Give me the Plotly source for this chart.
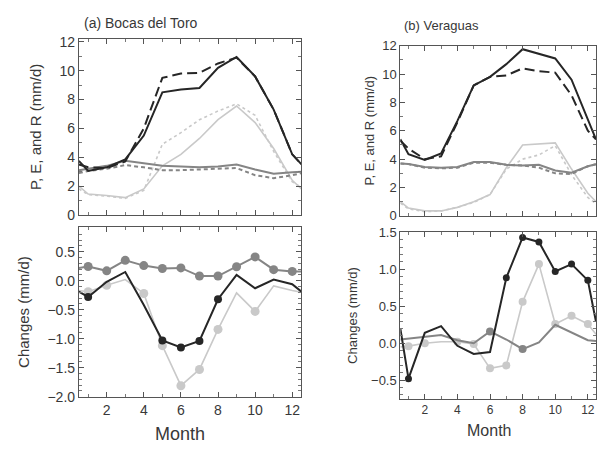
import plotly.graph_objects as go

# Month positions (half-month ends close the annual cycle at the panel edges)
months = [0.5, 1, 2, 3, 4, 5, 6, 7, 8, 9, 10, 11, 12, 12.5]

# ---- (a) Bocas del Toro: climatology (mm/d) ----
bocas_p_fut = [3.75, 3.05, 3.3, 3.85, 5.5, 8.5, 8.7, 8.8, 10.2, 10.95, 9.6, 7.3, 4.2, 3.5]
bocas_p_ctl = [3.5, 3.3, 3.25, 3.7, 6.0, 9.5, 9.8, 9.85, 10.5, 10.9, 9.6, 7.3, 4.2, 3.5]
bocas_e_fut = [3.1, 3.2, 3.4, 3.75, 3.55, 3.4, 3.35, 3.3, 3.35, 3.5, 3.15, 2.85, 2.95, 3.0]
bocas_e_ctl = [2.9, 3.05, 3.2, 3.45, 3.3, 3.1, 3.1, 3.15, 3.2, 3.25, 2.75, 2.55, 2.75, 2.9]
bocas_r_fut = [2.0, 1.45, 1.35, 1.2, 1.8, 3.4, 4.2, 5.3, 6.6, 7.55, 6.4, 4.6, 2.4, 1.8]
bocas_r_ctl = [1.8, 1.4, 1.3, 1.15, 1.7, 4.9, 5.7, 6.6, 7.2, 7.7, 6.9, 4.4, 2.3, 1.9]

# ---- (a) Bocas del Toro: changes (mm/d) ----
bocas_dp = [-0.19, -0.28, -0.02, 0.15, -0.42, -1.03, -1.15, -1.04, -0.32, 0.1, -0.13, 0.02, -0.06, -0.19]
bocas_de = [0.22, 0.245, 0.17, 0.35, 0.26, 0.21, 0.22, 0.08, 0.08, 0.24, 0.41, 0.19, 0.16, 0.16]
bocas_dr = [-0.17, -0.19, -0.08, 0.02, -0.22, -1.12, -1.81, -1.53, -0.84, -0.21, -0.53, -0.09, -0.17, -0.2]
bocas_dp_sig = [0, 1, 0, 0, 0, 1, 1, 1, 1, 0, 0, 0, 0, 0]
bocas_de_sig = [0, 1, 1, 1, 1, 1, 1, 1, 1, 1, 1, 1, 1, 0]
bocas_dr_sig = [0, 1, 1, 0, 1, 1, 1, 1, 1, 0, 1, 0, 0, 0]

# ---- (b) Veraguas: climatology (mm/d) ----
ver_p_fut = [5.4, 4.35, 3.95, 4.4, 6.7, 9.2, 9.8, 10.7, 11.75, 11.45, 11.1, 9.6, 6.8, 5.4]
ver_p_ctl = [5.3, 4.75, 4.0, 4.2, 6.6, 9.2, 9.8, 9.9, 10.4, 10.2, 10.1, 8.5, 6.0, 5.4]
ver_e_fut = [3.7, 3.65, 3.45, 3.4, 3.45, 3.8, 3.8, 3.6, 3.55, 3.6, 3.2, 3.05, 3.5, 3.65]
ver_e_ctl = [3.7, 3.65, 3.4, 3.35, 3.4, 3.75, 3.75, 3.6, 3.55, 3.4, 3.0, 2.95, 3.5, 3.65]
ver_r_fut = [1.0, 0.55, 0.35, 0.35, 0.6, 1.0, 1.5, 3.4, 5.0, 5.1, 5.15, 3.3, 1.6, 1.0]
ver_r_ctl = [0.9, 0.5, 0.3, 0.35, 0.6, 0.95, 1.5, 3.3, 4.0, 4.3, 4.95, 2.9, 1.3, 0.85]

# ---- (b) Veraguas: changes (mm/d) ----
ver_dp = [0.2, -0.48, 0.14, 0.23, -0.035, -0.145, -0.12, 0.885, 1.43, 1.37, 0.97, 1.07, 0.85, 0.29]
ver_de = [0.05, 0.06, 0.09, 0.11, 0.04, 0.0, 0.16, 0.05, -0.08, 0.01, 0.25, 0.14, 0.04, 0.03]
ver_dr = [-0.05, -0.04, 0.0, 0.02, 0.02, -0.01, -0.34, -0.3, 0.56, 1.07, 0.26, 0.37, 0.26, 0.12]
ver_dp_sig = [0, 1, 0, 0, 0, 0, 0, 1, 1, 1, 1, 1, 1, 0]
ver_de_sig = [0, 0, 0, 0, 0, 0, 1, 0, 1, 0, 0, 0, 0, 0]
ver_dr_sig = [0, 1, 1, 0, 1, 1, 1, 1, 1, 1, 1, 1, 1, 0]

BLACK = "#262626"
MID = "#858585"
LIGHT = "#c9c9c9"
TXT = "#383838"
FONT = "Liberation Sans, Arial, sans-serif"

fig = go.Figure()


def line(x, y, color, width, dash, xa, ya):
    fig.add_trace(go.Scatter(x=x, y=y, mode="lines", xaxis=xa, yaxis=ya,
                             line=dict(color=color, width=width, dash=dash),
                             showlegend=False, hoverinfo="skip"))


def dots(x, y, sig, color, size, xa, ya):
    ys = [v if s else None for v, s in zip(y, sig)]
    fig.add_trace(go.Scatter(x=x, y=ys, mode="markers", xaxis=xa, yaxis=ya,
                             marker=dict(color=color, size=size),
                             showlegend=False, hoverinfo="skip"))


# Panel (a), top
line(months, bocas_r_ctl, LIGHT, 1.6, "dot", "x", "y")
line(months, bocas_r_fut, LIGHT, 1.6, "solid", "x", "y")
line(months, bocas_e_ctl, MID, 2, "4px,3px", "x", "y")
line(months, bocas_e_fut, MID, 2, "solid", "x", "y")
line(months, bocas_p_ctl, BLACK, 2, "10px,5px", "x", "y")
line(months, bocas_p_fut, BLACK, 2, "solid", "x", "y")

# Panel (a), bottom
line(months, bocas_dr, LIGHT, 1.6, "solid", "x2", "y2")
dots(months, bocas_dr, bocas_dr_sig, LIGHT, 9, "x2", "y2")
line(months, bocas_de, MID, 2, "solid", "x2", "y2")
dots(months, bocas_de, bocas_de_sig, MID, 9, "x2", "y2")
line(months, bocas_dp, BLACK, 2, "solid", "x2", "y2")
dots(months, bocas_dp, bocas_dp_sig, BLACK, 8, "x2", "y2")

# Panel (b), top
line(months, ver_r_ctl, LIGHT, 1.6, "dot", "x3", "y3")
line(months, ver_r_fut, LIGHT, 1.6, "solid", "x3", "y3")
line(months, ver_e_ctl, MID, 2, "4px,3px", "x3", "y3")
line(months, ver_e_fut, MID, 2, "solid", "x3", "y3")
line(months, ver_p_ctl, BLACK, 2, "10px,5px", "x3", "y3")
line(months, ver_p_fut, BLACK, 2, "solid", "x3", "y3")

# Panel (b), bottom
line(months, ver_dr, LIGHT, 1.6, "solid", "x4", "y4")
dots(months, ver_dr, ver_dr_sig, LIGHT, 8, "x4", "y4")
line(months, ver_de, MID, 2, "solid", "x4", "y4")
dots(months, ver_de, ver_de_sig, MID, 8, "x4", "y4")
line(months, ver_dp, BLACK, 2, "solid", "x4", "y4")
dots(months, ver_dp, ver_dp_sig, BLACK, 7, "x4", "y4")

W, H = 597, 455


def px_x(a, b):
    return [a / W, b / W]


def px_y(top, bottom):
    return [1 - bottom / H, 1 - top / H]


def xax(dom, anchor, labels, fs):
    return dict(domain=dom, anchor=anchor, range=[0.5, 12.5], tickvals=[2, 4, 6, 8, 10, 12],
                showticklabels=labels, ticks="inside", ticklen=5, tickcolor="#555",
                minor=dict(dtick=1, tick0=0, ticks="inside", ticklen=3, tickcolor="#777"),
                showline=True, linecolor="#555", linewidth=1, mirror="ticks",
                showgrid=False, zeroline=False,
                tickfont=dict(family=FONT, size=fs, color=TXT))


def yax(dom, anchor, rng, dtick, minor, fmt, fs, title, tfs, standoff):
    return dict(domain=dom, anchor=anchor, range=rng, dtick=dtick, tick0=0,
                tickformat=fmt, ticks="inside", ticklen=5, tickcolor="#555",
                minor=dict(dtick=minor, ticks="inside", ticklen=3, tickcolor="#777"),
                showline=True, linecolor="#555", linewidth=1, mirror="ticks",
                showgrid=False, zeroline=False,
                tickfont=dict(family=FONT, size=fs, color=TXT),
                title=dict(text=title, font=dict(family=FONT, size=tfs, color=TXT),
                           standoff=standoff))


fig.update_layout(
    width=W, height=H,
    margin=dict(l=0, r=0, t=0, b=0),
    paper_bgcolor="white", plot_bgcolor="white",
    xaxis=xax(px_x(79, 302), "y", False, 14),
    yaxis=yax(px_y(33, 215), "x", [0, 12.2], 2, 1, "d", 14, "P, E, and R (mm/d)", 15, 14),
    xaxis2=xax(px_x(79, 302), "y2", True, 14),
    yaxis2=yax(px_y(228, 403), "x2", [-2.0, 0.917], 0.5, 0.1, ".1f", 14, "Changes (mm/d)", 15, 14),
    xaxis3=xax(px_x(401, 597), "y3", False, 12),
    yaxis3=yax(px_y(40, 216), "x3", [0, 12], 2, 1, "d", 13, "P, E, and R (mm/d)", 13, 4),
    xaxis4=xax(px_x(401, 597), "y4", True, 12),
    yaxis4=yax(px_y(233, 405), "x4", [-0.75, 1.5], 0.5, 0.1, ".1f", 13, "Changes (mm/d)", 13, 10),
    annotations=[
        dict(text="(a) Bocas del Toro", x=82 / W, y=1 - 17 / H, xref="paper", yref="paper",
             xanchor="left", yanchor="middle", showarrow=False,
             font=dict(family=FONT, size=14, color=TXT)),
        dict(text="(b) Veraguas", x=403 / W, y=1 - 19 / H, xref="paper", yref="paper",
             xanchor="left", yanchor="middle", showarrow=False,
             font=dict(family=FONT, size=13, color=TXT)),
        dict(text="Month", x=180 / W, y=1 - 442 / H, xref="paper", yref="paper",
             xanchor="center", yanchor="middle", showarrow=False,
             font=dict(family=FONT, size=18, color=TXT)),
        dict(text="Month", x=490 / W, y=1 - 438 / H, xref="paper", yref="paper",
             xanchor="center", yanchor="middle", showarrow=False,
             font=dict(family=FONT, size=16, color=TXT)),
    ],
)

fig.write_html("out.html")
